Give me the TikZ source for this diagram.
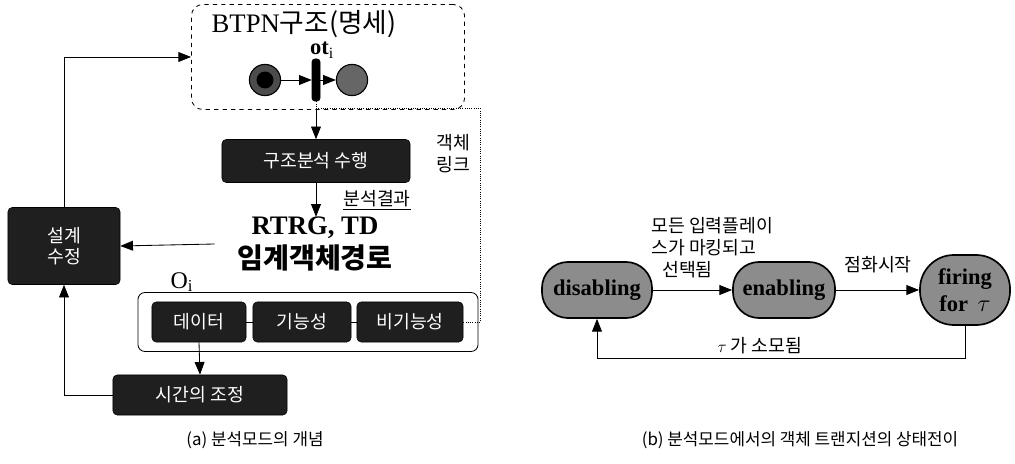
\documentclass[tikz,border=0pt]{standalone}
\usepackage{fontspec}
\setmainfont{Liberation Serif}
\newfontfamily\kr{Noto Sans CJK KR}
\usetikzlibrary{positioning, arrows.meta, calc}

\begin{document}
\begin{tikzpicture}[
  x=0.025cm, y=-0.025cm,
  >={Triangle[length=9pt,width=7pt]},
  arr/.style={->, semithick},
  specbox/.style={draw, dashed, semithick, rounded corners=8pt, minimum width=6.825cm, minimum height=2.625cm},
  dbox/.style={draw, fill=black!88, rounded corners=3pt, text=white, font=\kr\fontsize{13}{15}\selectfont, align=center, inner sep=0pt},
  place/.style={circle, draw, thick, fill=black!70, minimum size=0.78cm, inner sep=0pt},
  trans/.style={draw, fill=black, rounded corners=2pt, minimum width=0.2cm, minimum height=1.05cm, inner sep=0pt},
  state/.style={draw, very thick, fill=black!45, inner sep=0pt, align=center, font=\fontsize{16}{19}\selectfont\bfseries},
  lbl/.style={font=\kr\fontsize{13}{15.6}\selectfont, align=left, inner sep=0pt},
  captext/.style={font=\kr\fontsize{12}{14}\selectfont, inner sep=0pt},
]
\useasboundingbox (0,0) rectangle (1015,464);

% ---- (a) analysis mode ----
\node[specbox] (spec) at (328,57) {};
\node[font=\fontsize{19}{21}\selectfont, inner sep=0pt] (btpn) at (304,24) {BTPN{\kr 구조(명세)}};
\node[font=\fontsize{16}{17}\selectfont\bfseries, inner sep=0pt] (ot) at (322,50) {ot$_{\mathrm{i}}$};
\node[place] (p1) at (265,80) {};
\fill (p1) circle (6pt);
\node[trans] (t1) at (316,80) {};
\node[place, fill=black!60] (p2) at (352,80) {};
\draw[arr] (p1) -- (t1);
\draw[arr] (t1) -- (p2);

\node[dbox, minimum width=4.7cm, minimum height=1.075cm] (anal) at (316,161) {구조분석 수행};
\draw[arr] (anal.north |- spec.south) -- (anal.north);

\node[align=center, inner sep=0pt] (res) at (315,244)
  {{\fontsize{19}{22}\selectfont\bfseries RTRG, TD}\\[3pt]{\kr\fontsize{20}{22}\selectfont\bfseries 임계객체경로}};
\draw[arr] (anal.south) -- (anal.south |- res.north);
\node[lbl] (reslbl) at (377,200) {\underline{분석결과}};

\node[dbox, minimum width=2.8cm, minimum height=1.925cm] (fix) at (64,246) {설계\\수정};
\draw[arr] ([xshift=-16pt]res.west) -- (fix.east);
\draw[arr] (fix.north) |- (spec.west);

\node[font=\fontsize{17}{18}\selectfont, inner sep=0pt] (oi) at (182,282) {O$_{\mathrm{i}}$};
\node[draw, semithick, rounded corners=5pt, minimum width=8.5cm, minimum height=1.475cm] (objs) at (308,322) {};
\node[dbox, minimum width=2.35cm, minimum height=1.0cm] (r1) at (199,322) {데이터};
\node[dbox, minimum width=2.45cm, minimum height=1.0cm] (r2) at (302,322) {기능성};
\node[dbox, minimum width=2.65cm, minimum height=1.0cm] (r3) at (410,322) {비기능성};
\draw[semithick] (r1) -- (r2);
\draw[semithick] (r2) -- (r3);

\node[dbox, minimum width=4.35cm, minimum height=1.0cm] (adj) at (200,395) {시간의 조정};
\draw[arr] (r1.south) -- (adj.north);
\draw[arr] (adj.west) -| (fix.south);

% object link
\coordinate (lk) at (480,108);
\draw[densely dotted, semithick] (t1.south) |- (lk) |- (r3.east);
\node[lbl] (link) at (453,154) {객체\\링크};

\node[captext] (capa) at (255,440) {(a) 분석모드의 개념};

% ---- (b) state transition ----
\node[state, rounded corners=0.65cm, minimum width=2.75cm, minimum height=1.4cm] (dis) at (597,290) {disabling};
\node[state, rounded corners=0.65cm, minimum width=2.55cm, minimum height=1.4cm] (ena) at (784,290) {enabling};
\node[state, rounded corners=0.85cm, minimum width=2.25cm, minimum height=1.75cm] (fir) at (965,290) {firing\\for \,$\tau$};
\draw[arr] (dis) -- (ena);
\draw[arr] (ena) -- (fir);
\draw[arr] (fir.south) -- ++(0,33) -| (dis.south);

\node[lbl, anchor=north west] (cond) at (651,217) {모든 입력플레이\\스가 마킹되고\\\hspace{0.6em}선택됨};
\node[lbl] (fire) at (878,265) {점화시작};
\node[lbl] (used) at (760,346) {$\tau$ 가 소모됨};

\node[captext] (capb) at (800,440) {(b) 분석모드에서의 객체 트랜지션의 상태전이};
\end{tikzpicture}
\end{document}
